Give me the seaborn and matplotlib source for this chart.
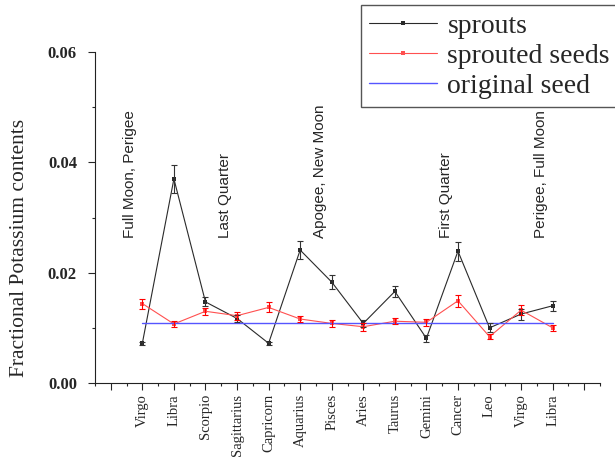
import matplotlib
matplotlib.use('Agg')
import matplotlib.pyplot as plt
import seaborn as sns
import pandas as pd
from matplotlib.ticker import MultipleLocator, FixedLocator

signs = ['Virgo', 'Libra', 'Scorpio', 'Sagittarius', 'Capricorn', 'Aquarius', 'Pisces',
         'Aries', 'Taurus', 'Gemini', 'Cancer', 'Leo', 'Virgo', 'Libra']
positions = list(range(1, len(signs) + 1))
sprouts = [0.0072, 0.0370, 0.0147, 0.0117, 0.0072, 0.0241, 0.0183,
           0.0108, 0.0166, 0.0081, 0.0239, 0.0100, 0.0125, 0.0140]
sprouts_err = [0.0003, 0.0026, 0.0008, 0.0006, 0.0003, 0.0017, 0.0013,
               0.0006, 0.0010, 0.0006, 0.0017, 0.0008, 0.0010, 0.0009]
seeds = [0.0144, 0.0107, 0.0130, 0.0122, 0.0137, 0.0116, 0.0108,
         0.0102, 0.0112, 0.0110, 0.0149, 0.0084, 0.0132, 0.0100]
seeds_err = [0.0009, 0.0005, 0.0006, 0.0007, 0.0009, 0.0005, 0.0007,
             0.0007, 0.0005, 0.0006, 0.0011, 0.0004, 0.0009, 0.0006]
original = [0.0108, 0.0108, 0.0108, 0.0108, 0.0108, 0.0108, 0.0108,
            0.0108, 0.0108, 0.0108, 0.0108, 0.0108, 0.0108, 0.0108]
phases = ['Full Moon, Perigee', 'Last Quarter', 'Apogee, New Moon',
          'First Quarter', 'Perigee, Full Moon']
phase_pos = [1, 4, 7, 11, 14]
phase_y = 0.0263

sns.set_style('ticks')
plt.rcParams['font.family'] = ['Liberation Serif', 'DejaVu Serif']

df = pd.DataFrame({'pos': positions, 'sprouts': sprouts, 'seeds': seeds,
                   'original': original})

fig = plt.figure(figsize=(6.15, 4.57), dpi=100)
ax = fig.add_axes([95/615, 1 - 383/457, 505/615, 331/457])

sns.lineplot(data=df, x='pos', y='sprouts', ax=ax, color='#2a2a2a', lw=0.8,
             marker='s', markersize=3.5, markeredgewidth=0, label='sprouts', sort=False)
sns.lineplot(data=df, x='pos', y='seeds', ax=ax, color='#ff5050', lw=0.8,
             marker='s', markersize=2.5, markeredgewidth=0, label='sprouted seeds', sort=False)
sns.lineplot(data=df, x='pos', y='original', ax=ax, color='#5555ff', lw=1.0,
             label='original seed', sort=False)
ax.errorbar(df['pos'], df['sprouts'], yerr=sprouts_err, fmt='none', ecolor='#333333',
            elinewidth=0.8, capsize=2.5, capthick=0.8)
ax.errorbar(df['pos'], df['seeds'], yerr=seeds_err, fmt='none', ecolor='#ff0000',
            elinewidth=0.8, capsize=2.5, capthick=0.8)

for txt, p in zip(phases, phase_pos):
    ax.text(p - 0.38, phase_y, txt, rotation=90, ha='center', va='bottom',
            fontsize=11, family=['Liberation Sans', 'DejaVu Sans'])

ax.set_xlim(-0.5, 15.5)
ax.set_ylim(0, 0.06)
ax.xaxis.set_major_locator(FixedLocator(list(range(0, 16))))
ax.xaxis.set_minor_locator(MultipleLocator(0.5))
ax.set_xticklabels([''] + signs + [''], rotation=90, fontsize=10.5)
ax.yaxis.set_minor_locator(MultipleLocator(0.01))
ax.set_yticks([0, 0.02, 0.04, 0.06])
ax.set_yticklabels(['0.00', '0.02', '0.04', '0.06'], fontsize=12, fontweight='bold')
ax.tick_params(which='major', length=5, width=0.8, direction='out')
ax.tick_params(which='minor', length=2.5, width=0.8, direction='out')
ax.tick_params(axis='x', which='major', pad=3)
ax.tick_params(axis='y', which='major', pad=8)
ax.set_xlabel('')
ax.set_ylabel('Fractional Potassium contents', fontsize=15.5)
ax.yaxis.set_label_coords(-0.13, 0.408)
for s in ['left', 'bottom']:
    ax.spines[s].set_linewidth(0.8)
    ax.spines[s].set_color('#222222')
sns.despine(ax=ax)

leg = ax.legend(loc='upper left', bbox_to_anchor=(361/615, 1 - 5/457),
                bbox_transform=fig.transFigure, fontsize=20, frameon=True,
                fancybox=False, edgecolor='#555555', framealpha=1,
                handlelength=2.45, handletextpad=0.36, labelspacing=0.16,
                borderpad=0.3, borderaxespad=0)
leg.get_frame().set_linewidth(1.0)

fig.savefig('out.png', dpi=100)
